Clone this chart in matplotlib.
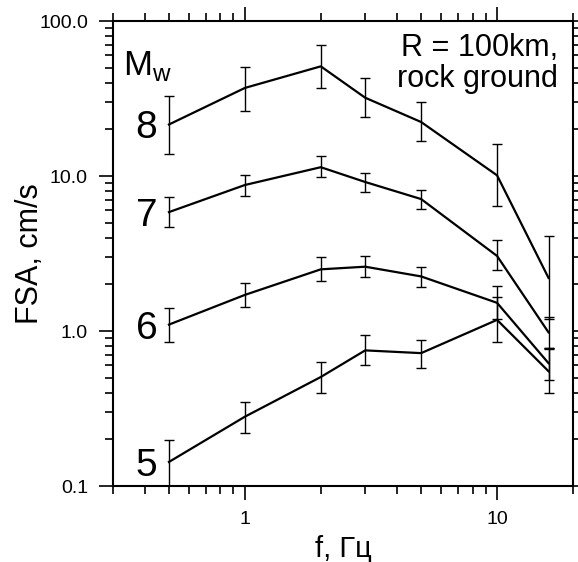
import matplotlib
matplotlib.use('Agg')
import matplotlib.pyplot as plt
from matplotlib.ticker import LogLocator, NullFormatter

plt.rcParams['font.family'] = ['Liberation Sans', 'DejaVu Sans']

# частоты, Гц
f = [0.5, 1, 2, 3, 5, 10, 16]

# Mw = 8
m8 = [21.5, 37, 51, 32, 22.3, 10.1, 2.2]
m8_hi = [32.8, 50.5, 70, 43, 30, 16.1, 4.1]
m8_lo = [13.9, 26.3, 37, 24, 16.8, 6.4, 1.2]
# Mw = 7
m7 = [5.85, 8.75, 11.4, 9.15, 7.1, 3.05, 0.98]
m7_hi = [7.3, 10.1, 13.4, 10.4, 8.1, 3.87, 1.23]
m7_lo = [4.7, 7.45, 9.9, 7.9, 6.1, 2.48, 0.78]
# Mw = 6
m6 = [1.1, 1.71, 2.5, 2.6, 2.25, 1.52, 0.62]
m6_hi = [1.41, 2.04, 3.0, 3.05, 2.6, 1.95, 0.78]
m6_lo = [0.85, 1.43, 2.1, 2.23, 1.92, 1.2, 0.48]
# Mw = 5
m5 = [0.143, 0.28, 0.505, 0.75, 0.72, 1.18, 0.55]
m5_hi = [0.198, 0.348, 0.63, 0.94, 0.87, 1.66, 0.76]
m5_lo = [0.08, 0.22, 0.4, 0.6, 0.58, 0.85, 0.40]

mags = ['8', '7', '6', '5']
series = [(m8, m8_lo, m8_hi), (m7, m7_lo, m7_hi), (m6, m6_lo, m6_hi), (m5, m5_lo, m5_hi)]

fig = plt.figure(figsize=(5.78, 5.62), dpi=100)
ax = fig.add_axes([0.1955, 0.1352, 0.7958, 0.8274])

for name, (v, lo, hi) in zip(mags, series):
    err = [[a - b for a, b in zip(v, lo)], [b - a for a, b in zip(v, hi)]]
    ax.errorbar(f, v, yerr=err, color='black', lw=1.6, elinewidth=1.0,
                capsize=3.5, capthick=1.0)
    ax.text(0.45, v[0], name, ha='right', va='center_baseline', fontsize=28)

ax.set_xscale('log')
ax.set_yscale('log')
ax.set_xlim(0.3, 20)
ax.set_ylim(0.1, 100)

ax.set_xticks([1, 10])
ax.set_xticklabels(['1', '10'])
ax.set_yticks([0.1, 1, 10, 100])
ax.set_yticklabels(['0.1', '1.0', '10.0', '100.0'])
ax.xaxis.set_minor_locator(LogLocator(base=10, subs=range(2, 10)))
ax.yaxis.set_minor_locator(LogLocator(base=10, subs=range(2, 10)))
ax.xaxis.set_minor_formatter(NullFormatter())
ax.yaxis.set_minor_formatter(NullFormatter())
ax.tick_params(which='both', direction='out', top=True, right=True,
               labelsize=14, width=1.2)
ax.tick_params(which='major', length=10, pad=8)
ax.tick_params(which='minor', length=6)
for s in ax.spines.values():
    s.set_linewidth(1.5)

ax.set_xlabel('f, Гц', fontsize=21, labelpad=5)
ax.set_ylabel('FSA, cm/s', fontsize=22, labelpad=-4)

ax.text(0.022, 0.884, r'M$_\mathregular{w}$', transform=ax.transAxes,
        fontsize=25, ha='left', va='baseline')
ax.text(0.968, 0.975, 'R = 100km,\nrock ground', transform=ax.transAxes,
        fontsize=22, ha='right', va='top', linespacing=1.05)

fig.savefig('out.png', dpi=100)
